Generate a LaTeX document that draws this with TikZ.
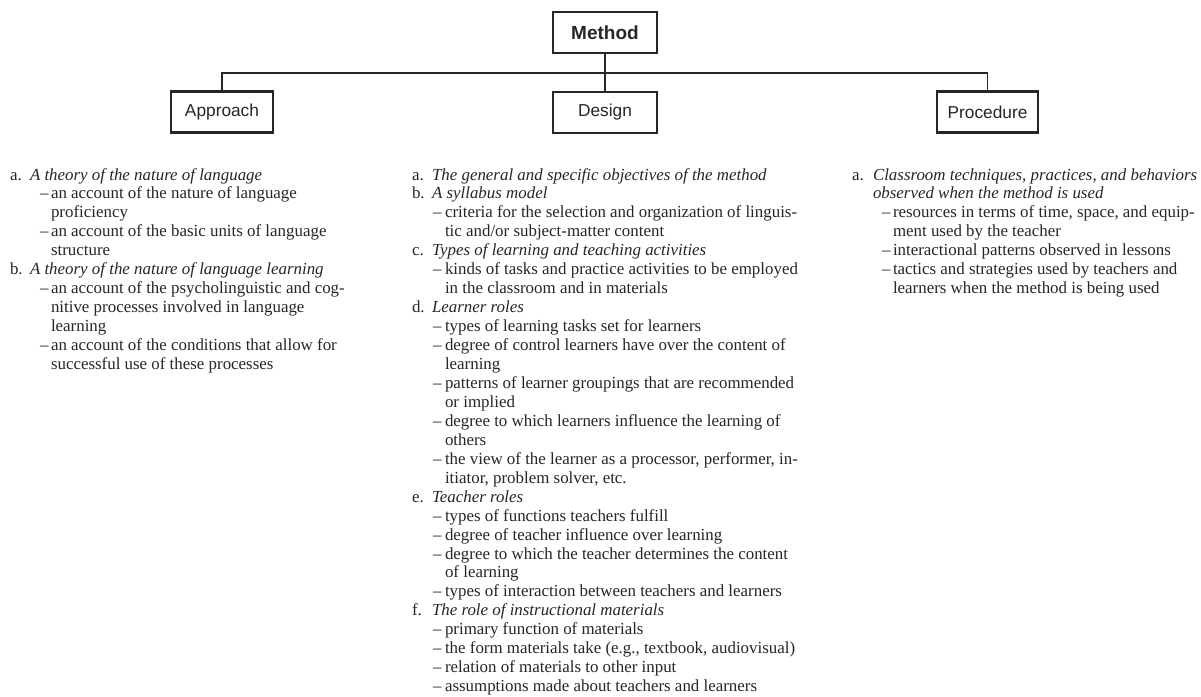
\documentclass[tikz,border=0pt]{standalone}
\usepackage{fontspec}
\setmainfont{Liberation Serif}
\newfontfamily\boxfont{Liberation Sans}
\newcommand\putline[4]{\node[txt] (#1) at (#2,{180+18.95*(#3)}) {#4};}
\begin{document}
\begin{tikzpicture}[x=1pt,y=-1pt,
  box/.style={draw=black!85, line width=2.2pt, minimum height=41pt, inner sep=0pt, text=black!85},
  boxtxt/.style={font=\boxfont\fontsize{17.3}{20}\selectfont},
  boxbold/.style={font=\boxfont\bfseries\fontsize{19}{22}\selectfont},
  link/.style={draw=black!85, line width=1.3pt},
  txt/.style={anchor=base west, inner sep=0pt, outer sep=0pt, font=\fontsize{16.9}{18.7}\selectfont, text=black!85}]
\useasboundingbox[fill=white] (0,0) rectangle (1201,696);
% boxes
\node[box, boxbold, minimum width=104pt] (method) at (605,32.5) {Method};
\node[box, boxtxt, minimum width=102pt] (approach) at (222,112) {Approach};
\node[box, boxtxt, minimum width=104pt] (design) at (605,112.5) {Design};
\node[box, boxtxt, minimum width=101pt] (procedure) at (987.5,112) {Procedure};
\coordinate (bus) at (605,73);
\draw[link] (method.south) -- (design.north);
\draw[link] (approach.north) |- (bus) -| (procedure.north);
% left column
\putline{la}{10}{0}{a.}
\putline{lah}{30}{0}{\itshape A theory of the nature of language}
\putline{ld1}{40}{1}{–}
\putline{lt1}{51}{1}{an account of the nature of language}
\putline{lt2}{51}{2}{proficiency}
\putline{ld3}{40}{3}{–}
\putline{lt3}{51}{3}{an account of the basic units of language}
\putline{lt4}{51}{4}{structure}
\putline{lb}{10}{5}{b.}
\putline{lbh}{30}{5}{\itshape A theory of the nature of language learning}
\putline{ld6}{40}{6}{–}
\putline{lt6}{51}{6}{an account of the psycholinguistic and cog-}
\putline{lt7}{51}{7}{nitive processes involved in language}
\putline{lt8}{51}{8}{learning}
\putline{ld9}{40}{9}{–}
\putline{lt9}{51}{9}{an account of the conditions that allow for}
\putline{lt10}{51}{10}{successful use of these processes}
% middle column
\putline{ma}{412}{0}{a.}
\putline{mah}{432}{0}{\itshape The general and specific objectives of the method}
\putline{mb}{412}{1}{b.}
\putline{mbh}{432}{1}{\itshape A syllabus model}
\putline{md2}{433}{2}{–}
\putline{mt2}{445}{2}{criteria for the selection and organization of linguis-}
\putline{mt3}{445}{3}{tic and/or subject-matter content}
\putline{mc}{412}{4}{c.}
\putline{mch}{432}{4}{\itshape Types of learning and teaching activities}
\putline{md5}{433}{5}{–}
\putline{mt5}{445}{5}{kinds of tasks and practice activities to be employed}
\putline{mt6}{445}{6}{in the classroom and in materials}
\putline{md}{412}{7}{d.}
\putline{mdh}{432}{7}{\itshape Learner roles}
\putline{md8}{433}{8}{–}
\putline{mt8}{445}{8}{types of learning tasks set for learners}
\putline{md9}{433}{9}{–}
\putline{mt9}{445}{9}{degree of control learners have over the content of}
\putline{mt10}{445}{10}{learning}
\putline{md11}{433}{11}{–}
\putline{mt11}{445}{11}{patterns of learner groupings that are recommended}
\putline{mt12}{445}{12}{or implied}
\putline{md13}{433}{13}{–}
\putline{mt13}{445}{13}{degree to which learners influence the learning of}
\putline{mt14}{445}{14}{others}
\putline{md15}{433}{15}{–}
\putline{mt15}{445}{15}{the view of the learner as a processor, performer, in-}
\putline{mt16}{445}{16}{itiator, problem solver, etc.}
\putline{me}{412}{17}{e.}
\putline{meh}{432}{17}{\itshape Teacher roles}
\putline{md18}{433}{18}{–}
\putline{mt18}{445}{18}{types of functions teachers fulfill}
\putline{md19}{433}{19}{–}
\putline{mt19}{445}{19}{degree of teacher influence over learning}
\putline{md20}{433}{20}{–}
\putline{mt20}{445}{20}{degree to which the teacher determines the content}
\putline{mt21}{445}{21}{of learning}
\putline{md22}{433}{22}{–}
\putline{mt22}{445}{22}{types of interaction between teachers and learners}
\putline{mf}{412}{23}{f.}
\putline{mfh}{432}{23}{\itshape The role of instructional materials}
\putline{md24}{433}{24}{–}
\putline{mt24}{445}{24}{primary function of materials}
\putline{md25}{433}{25}{–}
\putline{mt25}{445}{25}{the form materials take (e.g., textbook, audiovisual)}
\putline{md26}{433}{26}{–}
\putline{mt26}{445}{26}{relation of materials to other input}
\putline{md27}{433}{27}{–}
\putline{mt27}{445}{27}{assumptions made about teachers and learners}
% right column
\putline{ra}{852}{0}{a.}
\putline{rah}{873}{0}{\itshape Classroom techniques, practices, and behaviors}
\putline{rah2}{873}{1}{\itshape observed when the method is used}
\putline{rd2}{882}{2}{–}
\putline{rt2}{893}{2}{resources in terms of time, space, and equip-}
\putline{rt3}{893}{3}{ment used by the teacher}
\putline{rd4}{882}{4}{–}
\putline{rt4}{893}{4}{interactional patterns observed in lessons}
\putline{rd5}{882}{5}{–}
\putline{rt5}{893}{5}{tactics and strategies used by teachers and}
\putline{rt6}{893}{6}{learners when the method is being used}
\end{tikzpicture}
\end{document}
